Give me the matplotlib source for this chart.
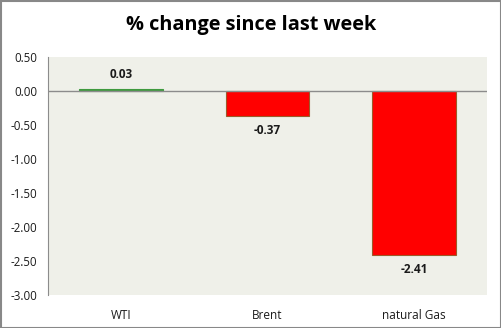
import matplotlib
matplotlib.use("Agg")
import matplotlib.pyplot as plt
from matplotlib.patches import Rectangle

categories = ["WTI", "Brent", "natural Gas"]
values = [0.03, -0.37, -2.41]
labels = ["0.03", "-0.37", "-2.41"]
yticks = [0.5, 0.0, -0.5, -1.0, -1.5, -2.0, -2.5, -3.0]

plt.rcParams['font.family'] = ['Open Sans', 'DejaVu Sans']

W, H = 502, 328
fig = plt.figure(figsize=(W/100, H/100), dpi=100)
fig.patch.set_facecolor("white")
fig.add_artist(Rectangle((0.5/W, 0.5/H), 1 - 1.5/W, 1 - 1.5/H, transform=fig.transFigure,
                         fill=False, edgecolor="#888888", linewidth=1.5))

left, right, top, bottom = 48, 487, 57, 295
ax = fig.add_axes([left/W, 1 - bottom/H, (right-left)/W, (bottom-top)/H])
ax.set_facecolor("#EFF0E9")

colors = ["#3E9A3E" if v >= 0 else "#FF0000" for v in values]
edges = ["#3E9A3E" if v >= 0 else "#9C5A2A" for v in values]
x = list(range(len(categories)))
ax.bar(x, values, width=0.57, color=colors, edgecolor=edges, linewidth=0.8, zorder=3)
ax.axhline(0, color="#8C8C8C", linewidth=1, zorder=4)

for xi, v, lab in zip(x, values, labels):
    if v >= 0:
        ax.annotate(lab, (xi, v), xytext=(0, 6), textcoords="offset points",
                    ha="center", va="bottom", fontsize=8.5, fontweight="bold", color="#1a1a1a")
    else:
        ax.annotate(lab, (xi, v), xytext=(0, -6), textcoords="offset points",
                    ha="center", va="top", fontsize=8.5, fontweight="bold", color="#1a1a1a")

ax.set_xlim(-0.5, len(categories) - 0.5)
ax.set_ylim(-3.0, 0.5)
ax.set_yticks(yticks)
ax.set_yticklabels([f"{t:.2f}" for t in yticks], fontsize=8.3)
ax.set_xticks(x)
ax.set_xticklabels(categories, fontsize=8.5)
ax.tick_params(axis="y", length=0, pad=8, colors="#1a1a1a")
ax.tick_params(axis="x", length=0, pad=10, colors="#1a1a1a")
for s in ["top", "right", "bottom"]:
    ax.spines[s].set_visible(False)
ax.spines["left"].set_color("#8C8C8C")

fig.text(0.5, 1 - 25/H, "% change since last week", ha="center", va="center",
         fontsize=14.3, fontweight="bold", color="black")

fig.savefig("out.png", dpi=100, facecolor="white")
